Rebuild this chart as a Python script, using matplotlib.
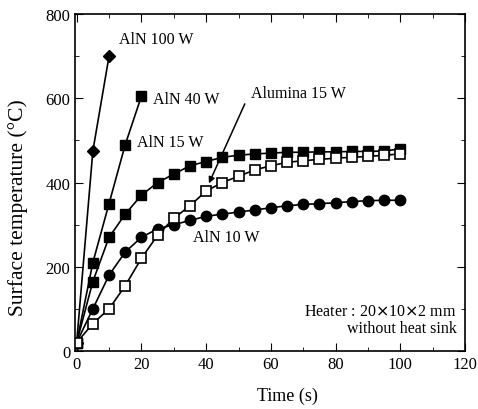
import numpy as np
import matplotlib
matplotlib.use("Agg")
import matplotlib.pyplot as plt

plt.rcParams['font.family'] = ['Liberation Serif', 'DejaVu Serif']

# time (s) and surface temperature (C)
t_100 = [0, 5, 10]
T_100 = [20, 475, 700]

t_40 = [0, 5, 10, 15, 20]
T_40 = [20, 210, 350, 490, 605]

t_long = [0, 5, 10, 15, 20, 25, 30, 35, 40, 45, 50, 55, 60, 65, 70, 75, 80, 85, 90, 95, 100]
T_aln15 = [20, 165, 270, 325, 370, 400, 420, 440, 450, 460, 465, 468, 470, 472, 472, 473, 473, 474, 474, 475, 480]
T_aln10 = [20, 100, 180, 235, 270, 290, 300, 310, 320, 325, 330, 335, 340, 345, 348, 350, 352, 355, 357, 358, 358]
T_alu15 = [20, 65, 100, 155, 220, 275, 315, 345, 380, 400, 415, 430, 440, 448, 452, 455, 458, 460, 462, 465, 468]

fig = plt.figure(figsize=(4.78, 4.10), dpi=100)
ax = fig.add_axes([0.157, 0.1415, 0.816, 0.8215])

ax.plot(t_100, T_100, '-D', color='black', lw=1.2, ms=6)
ax.plot(t_40, T_40, '-s', color='black', lw=1.2, ms=7)
ax.plot(t_long, T_aln15, '-s', color='black', lw=1.2, ms=7)
ax.plot(t_long, T_aln10, '-o', color='black', lw=1.2, ms=7.5)
ax.plot(t_long, T_alu15, '-s', color='black', mfc='white', lw=1.2, ms=7, mew=1.2)

fs = 11.5
ax.text(13, 740, 'AlN 100 W', fontsize=fs, va='center')
ax.text(23.5, 598, 'AlN 40 W', fontsize=fs, va='center')
ax.text(18.5, 496, 'AlN 15 W', fontsize=fs, va='center')
ax.text(54, 612, 'Alumina 15 W', fontsize=fs, va='center')
ax.text(36, 270, 'AlN 10 W', fontsize=fs, va='center')
ax.annotate('', xy=(40.5, 392), xytext=(52.3, 593),
            arrowprops=dict(arrowstyle='-|>', color='black', lw=1.1, mutation_scale=9))
ax.text(117.5, 95, 'Heater : 20$\\times$10$\\times$2 mm', fontsize=fs, ha='right', va='center')
ax.text(117.5, 55, 'without heat sink', fontsize=fs, ha='right', va='center')

ax.set_xlim(-0.5, 120)
ax.set_ylim(0, 800)
ax.set_xticks(np.arange(0, 121, 20))
ax.set_xticks(np.arange(0, 121, 10), minor=True)
ax.set_yticks(np.arange(0, 801, 200))
ax.set_yticks(np.arange(0, 801, 100), minor=True)
ax.tick_params(which='both', direction='in', top=True, right=True, labelsize=12)
ax.tick_params(which='major', length=6)
ax.tick_params(which='minor', length=3)
for s in ax.spines.values():
    s.set_linewidth(1.2)

ax.set_xlabel('Time (s)', fontsize=13)
ax.xaxis.set_label_coords(0.544, -0.105)
ax.set_ylabel('Surface temperature (\u00b0C)', fontsize=15.5)
ax.yaxis.set_label_coords(-0.12, 0.43)

fig.savefig('out.png', dpi=100)
